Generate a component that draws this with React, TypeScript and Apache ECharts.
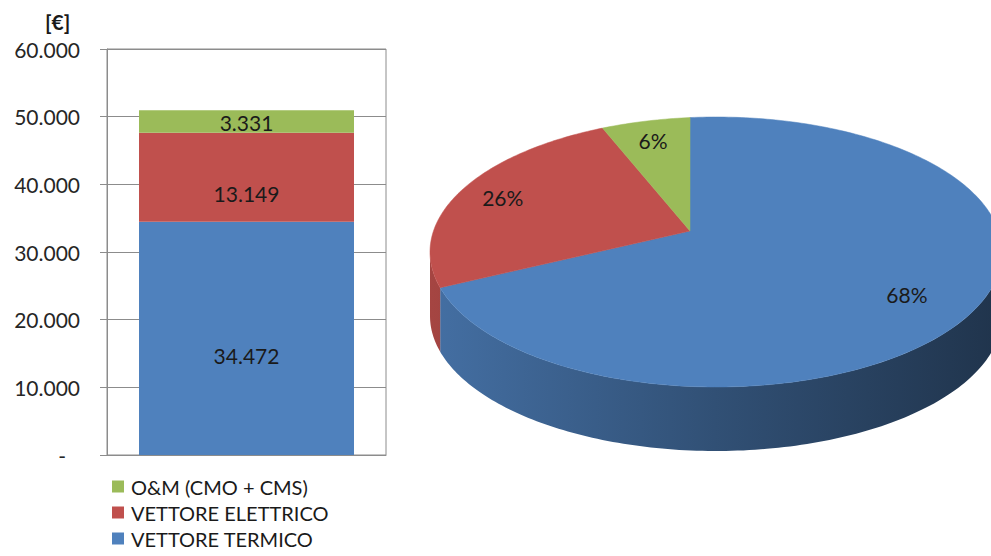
import React, { useEffect, useRef } from 'react';
import * as echarts from 'echarts';

// ---------- data ----------
const categories = ['Costi annui'];
const seriesNames = ['VETTORE TERMICO', 'VETTORE ELETTRICO', 'O&M (CMO + CMS)'];
const termico = [34472];
const elettrico = [13149];
const om = [3331];
const yTicks = [0, 10000, 20000, 30000, 40000, 50000, 60000];
const pieShares = [68, 26, 6]; // termico, elettrico, O&M (%)
const colors = ['#4F81BD', '#C0504D', '#9BBB59'];

// ---------- pie layout (pixels) ----------
const EX = 716, EY = 252, RX = 286, RY = 135; // top-face ellipse
const PX = 690, PY = 231; // projected centre of the pie
const DEPTH = 64;

const X0 = (PX - EX) / RX, Y0 = (PY - EY) / RY;
const T = Math.hypot(X0, Y0);
const PHI = Math.atan2(Y0, X0);

function mapNorm(x: number, y: number): [number, number] {
  const c = Math.cos(PHI), s = Math.sin(PHI);
  const xr = x * c + y * s, yr = -x * s + y * c;
  const d = 1 + T * xr;
  const xt = (xr + T) / d, yt = (yr * Math.sqrt(1 - T * T)) / d;
  return [xt * c - yt * s, xt * s + yt * c];
}

// angular offset so that angle 0 maps straight above the centre
let THETA0 = 0;
(() => {
  let best = Infinity;
  for (let a = -1; a <= 1; a += 0.0005) {
    const [x, y] = mapNorm(Math.sin(a), -Math.cos(a));
    if (y < Y0 && Math.abs(x - X0) < best) {
      best = Math.abs(x - X0);
      THETA0 = a;
    }
  }
})();

function pt(theta: number, r = 1): [number, number] {
  const a = theta + THETA0;
  const [x, y] = mapNorm(r * Math.sin(a), -r * Math.cos(a));
  return [EX + RX * x, EY + RY * y];
}

// silhouette angles (rightmost / leftmost rim points)
let A_R = Math.PI / 2, A_L = (3 * Math.PI) / 2;
(() => {
  let maxX = -Infinity, minX = Infinity;
  for (let a = 0; a < 2 * Math.PI; a += 0.001) {
    const [x] = pt(a);
    if (x > maxX) { maxX = x; A_R = a; }
    if (x < minX) { minX = x; A_L = a; }
  }
})();

function shade(hex: string, f: number) {
  const n = parseInt(hex.slice(1), 16);
  const r = Math.round(((n >> 16) & 255) * f);
  const g = Math.round(((n >> 8) & 255) * f);
  const b = Math.round((n & 255) * f);
  return `rgb(${r},${g},${b})`;
}

const fmt = (n: number) => String(Math.round(n)).replace(/\B(?=(\d{3})+(?!\d))/g, '.');

const FONT = 'Lato, "Open Sans", sans-serif';

export default function App() {
  const ref = useRef<HTMLDivElement>(null);

  useEffect(() => {
    if (!ref.current) return;
    const chart = echarts.init(ref.current, null, { renderer: 'svg' });
    const total = pieShares.reduce((a, b) => a + b, 0);

    const renderItem = (params: any, api: any) => {
      const i = params.dataIndex;
      let start = 0;
      for (let k = 0; k < i; k++) start += pieShares[k];
      const a0 = (start / total) * 2 * Math.PI;
      const a1 = ((start + (api.value(0) as number)) / total) * 2 * Math.PI;
      const color = colors[i];
      const children: any[] = [];

      // wall (front part only)
      const w0 = Math.max(a0, A_R), w1 = Math.min(a1, A_L);
      if (w1 > w0) {
        const n = Math.max(6, Math.ceil(((w1 - w0) / (2 * Math.PI)) * 360));
        const topPts: [number, number][] = [];
        for (let k = 0; k <= n; k++) topPts.push(pt(w0 + ((w1 - w0) * k) / n));
        const botPts = topPts.slice().reverse().map(([x, y]) => [x, y + DEPTH] as [number, number]);
        children.push({
          type: 'polygon',
          z2: 1,
          shape: { points: topPts.concat(botPts) },
          style: {
            fill: new echarts.graphic.LinearGradient(
              430, 0, 1000, 0,
              [
                { offset: 0, color: shade(color, 0.86) },
                { offset: 0.5, color: shade(color, 0.62) },
                { offset: 1, color: shade(color, 0.4) },
              ],
              true
            ),
            stroke: null,
          },
        });
      }

      // top face
      const n = Math.max(8, Math.ceil(((a1 - a0) / (2 * Math.PI)) * 360));
      const face: [number, number][] = [[PX, PY]];
      for (let k = 0; k <= n; k++) face.push(pt(a0 + ((a1 - a0) * k) / n));
      children.push({
        type: 'polygon',
        z2: 10,
        shape: { points: face },
        style: { fill: color, stroke: color, lineWidth: 0.5 },
      });

      // label
      const mid = (a0 + a1) / 2;
      const [lx, ly] = pt(mid, 0.8);
      children.push({
        type: 'text',
        z2: 20,
        x: lx,
        y: ly,
        style: {
          text: `${api.value(0)}%`,
          fill: '#1a1a1a',
          font: `21px ${FONT}`,
          align: 'center',
          verticalAlign: 'middle',
        },
      });
      return { type: 'group', children };
    };

    const barLabel = (dy: number) => ({
      show: true,
      position: 'inside',
      color: '#1a1a1a',
      fontSize: 21,
      fontFamily: FONT,
      offset: [0, dy],
      formatter: (p: any) => fmt(p.value),
    });

    chart.setOption({
      animation: false,
      textStyle: { fontFamily: FONT },
      title: {
        text: '[€]',
        left: 40,
        top: 6,
        textStyle: { fontSize: 21, fontWeight: 'bold', color: '#1a1a1a', fontFamily: FONT },
      },
      legend: {
        orient: 'vertical',
        left: 112,
        top: 476,
        height: 80,
        padding: 0,
        itemWidth: 12,
        itemHeight: 12,
        itemGap: 5,
        icon: 'rect',
        data: [seriesNames[2], seriesNames[1], seriesNames[0]],
        textStyle: { fontSize: 20, color: '#1a1a1a', fontFamily: FONT, lineHeight: 21, padding: [0, 0, 0, 2] },
      },
      grid: {
        left: 107,
        top: 49,
        width: 279,
        height: 406,
        show: true,
        borderColor: '#8c8c8c',
        borderWidth: 1,
        backgroundColor: 'transparent',
      },
      xAxis: {
        type: 'category',
        data: categories,
        axisLabel: { show: false },
        axisTick: { show: false },
        axisLine: { show: true, lineStyle: { color: '#8c8c8c' } },
      },
      yAxis: {
        type: 'value',
        min: yTicks[0],
        max: yTicks[yTicks.length - 1],
        interval: yTicks[1] - yTicks[0],
        axisLine: { show: true, lineStyle: { color: '#8c8c8c' } },
        axisTick: { show: true, length: 7, lineStyle: { color: '#8c8c8c' } },
        splitLine: { show: true, lineStyle: { color: '#8c8c8c' } },
        axisLabel: {
          margin: 27,
          fontSize: 21,
          color: '#262626',
          fontFamily: FONT,
          formatter: (v: number) => (v === 0 ? '{d|-}' : fmt(v)),
          rich: { d: { fontSize: 21, color: '#262626', padding: [0, 14, 0, 0] } },
        },
      },
      series: [
        {
          name: seriesNames[0],
          type: 'bar',
          stack: 'tot',
          barWidth: 215,
          data: termico,
          itemStyle: { color: colors[0] },
          label: barLabel(17),
        },
        {
          name: seriesNames[1],
          type: 'bar',
          stack: 'tot',
          barWidth: 215,
          data: elettrico,
          itemStyle: { color: colors[1] },
          label: barLabel(16),
        },
        {
          name: seriesNames[2],
          type: 'bar',
          stack: 'tot',
          barWidth: 215,
          data: om,
          itemStyle: { color: colors[2] },
          label: barLabel(1),
        },
        {
          name: 'Ripartizione',
          type: 'custom',
          coordinateSystem: 'none',
          renderItem,
          data: pieShares.map((v) => [v]),
          silent: true,
        },
      ],
    });
    return () => chart.dispose();
  }, []);

  return (
    <div
      ref={ref}
      style={{ position: 'fixed', left: 0, top: 0, width: 991, height: 556, background: '#fff' }}
    />
  );
}
